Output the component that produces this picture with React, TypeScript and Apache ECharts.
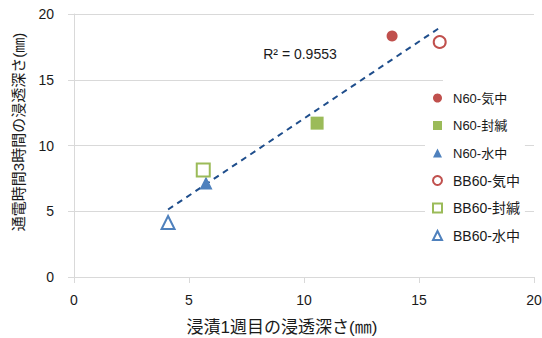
import React, { useEffect, useRef } from "react";
import * as echarts from "echarts";

const seriesNames = ["N60-気中", "N60-封緘", "N60-水中", "BB60-気中", "BB60-封緘", "BB60-水中"];
const xValues = [13.83, 10.57, 5.74, 15.9, 5.62, 4.09];
const yValues = [18.33, 11.7, 7.15, 17.87, 8.14, 4.14];
const symbols = ["circle", "rect", "triangle", "circle", "rect", "triangle"];
const colors = ["#C0504D", "#9BBB59", "#4F81BD", "#C0504D", "#9BBB59", "#4F81BD"];
const hollow = [false, false, false, true, true, true];
const sizes = [11, 13, 13, 12, 13, 13];
const xTicks = [0, 5, 10, 15, 20];
const yTicks = [0, 5, 10, 15, 20];
const r2Label = "R² = 0.9553";
const xTitle = "浸漬1週目の浸透深さ(㎜)";
const yTitle = "通電時間3時間の浸透深さ(㎜)";

const FONT = 'Arial, "Liberation Sans", "Noto Sans CJK JP", sans-serif';

function fitLine(xs: number[], ys: number[]) {
  const n = xs.length;
  const mx = xs.reduce((a, b) => a + b, 0) / n;
  const my = ys.reduce((a, b) => a + b, 0) / n;
  let sxy = 0, sxx = 0;
  for (let i = 0; i < n; i++) {
    sxy += (xs[i] - mx) * (ys[i] - my);
    sxx += (xs[i] - mx) * (xs[i] - mx);
  }
  const slope = sxy / sxx;
  const icpt = my - slope * mx;
  const x0 = Math.min(...xs);
  const x1 = Math.max(...xs);
  return [[x0, icpt + slope * x0], [x1, icpt + slope * x1]];
}

export default function App() {
  const ref = useRef<HTMLDivElement>(null);
  useEffect(() => {
    if (!ref.current) return;
    const chart = echarts.init(ref.current, null, { renderer: "svg" });
    const scatter = seriesNames.map((name, i) => ({
      name,
      type: "scatter",
      symbol: symbols[i],
      symbolSize: sizes[i],
      data: [[xValues[i], yValues[i]]],
      z: 3,
      itemStyle: hollow[i]
        ? { color: "#ffffff", borderColor: colors[i], borderWidth: 2, opacity: 1 }
        : { color: colors[i], opacity: 1 },
    }));
    const trend = fitLine(xValues, yValues);
    chart.setOption({
      animation: false,
      backgroundColor: "#ffffff",
      textStyle: { fontFamily: FONT },
      grid: { left: 74, right: 8, top: 14, bottom: 61, outerBoundsMode: "none", containLabel: false },
      xAxis: {
        type: "value",
        min: xTicks[0],
        max: xTicks[xTicks.length - 1],
        interval: 5,
        axisLine: { show: true, onZero: false, lineStyle: { color: "#D9D9D9", width: 1 } },
        axisTick: { show: true, length: 6, lineStyle: { color: "#D9D9D9" } },
        axisLabel: { color: "#1a1a1a", fontSize: 14, margin: 16, fontFamily: FONT },
        splitLine: { show: false },
      },
      yAxis: {
        type: "value",
        min: yTicks[0],
        max: yTicks[yTicks.length - 1],
        interval: 5,
        axisLine: { show: true, onZero: false, lineStyle: { color: "#D9D9D9", width: 1 } },
        axisTick: { show: true, length: 6, lineStyle: { color: "#D9D9D9" } },
        axisLabel: { color: "#1a1a1a", fontSize: 14, margin: 20, fontFamily: FONT },
        splitLine: { show: true, lineStyle: { color: "#D9D9D9", width: 1 } },
      },
      legend: {
        orient: "vertical",
        left: 425,
        top: 86,
        width: 110,
        padding: [5, 5, 8, 7],
        backgroundColor: "#ffffff",
        itemWidth: 9,
        itemHeight: 9,
        itemGap: 13.5,
        data: seriesNames.map((n, i) => ({
          name: n,
          textStyle: { fontSize: i < 3 ? 13 : 14 },
        })),
        textStyle: { color: "#1a1a1a", fontSize: 13, fontFamily: FONT, padding: [0, 0, 0, 6], lineHeight: 14 },
      },
      graphic: [
        {
          type: "rect",
          z: 1,
          shape: { x: 443, y: 76, width: 93, height: 8 },
          style: { fill: "#ffffff" },
          silent: true,
        },
        {
          type: "text",
          x: 300,
          y: 54,
          z: 10,
          style: { text: r2Label, fill: "#1a1a1a", font: `14px ${FONT}`, align: "center", verticalAlign: "middle" },
        },
        {
          type: "text",
          x: 282,
          y: 327,
          style: { text: xTitle, fill: "#1a1a1a", font: `17px ${FONT}`, align: "center", verticalAlign: "middle" },
        },
        {
          type: "text",
          x: 18,
          y: 132,
          rotation: Math.PI / 2,
          style: { text: yTitle, fill: "#1a1a1a", font: `15px ${FONT}`, align: "center", verticalAlign: "middle" },
        },
      ],
      series: [
        ...scatter,
        {
          name: "trend",
          type: "line",
          data: trend,
          showSymbol: false,
          symbol: "none",
          z: 2,
          lineStyle: { color: "#1F4E8C", width: 2, type: [6, 5] },
        },
      ],
    });
    return () => chart.dispose();
  }, []);
  return <div ref={ref} style={{ width: 542, height: 338, position: "fixed", left: 0, top: 0 }} />;
}
